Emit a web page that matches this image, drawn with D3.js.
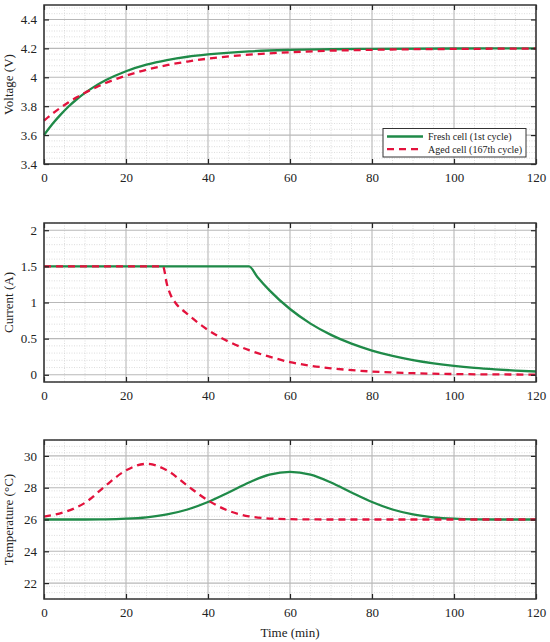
<!DOCTYPE html>
<html><head><meta charset="utf-8">
<script src="https://cdn.jsdelivr.net/npm/d3@7"></script>
<style>body{margin:0;background:#fff}svg{display:block}text{font-family:"Liberation Serif","Times New Roman",serif;fill:#222}</style>
</head><body><svg id="c" width="550" height="642"></svg>
<script>
// ---- data ----
const timeTicks = [0, 20, 40, 60, 80, 100, 120];
const seriesNames = ["Fresh cell (1st cycle)", "Aged cell (167th cycle)"];
const seriesColors = ["#1f8a48", "#e3123c"];

const vFreshT = [0,2,4,6,8,10,12,15,20,25,30,35,40,50,60,70,80,100,120];
const vFresh  = [3.600,3.675,3.740,3.798,3.848,3.892,3.930,3.979,4.042,4.087,4.119,4.142,4.158,4.179,4.189,4.194,4.197,4.199,4.200];
const vAgedT  = [0,2,4,6,8,10,12,15,20,25,30,35,40,50,60,70,80,90,100,120];
const vAged   = [3.700,3.747,3.789,3.827,3.862,3.893,3.921,3.960,4.011,4.052,4.084,4.109,4.129,4.156,4.173,4.184,4.190,4.194,4.196,4.199];

const iFreshT = [0,50,52,55,60,65,70,75,80,85,90,95,100,105,110,115,120];
const iFresh  = [1.5,1.5,1.357,1.168,0.910,0.708,0.552,0.430,0.335,0.261,0.203,0.158,0.123,0.096,0.075,0.058,0.045];
const iAgedT  = [0,29,30,31,32,35,40,45,50,55,60,65,70,80,90,100,110,120];
const iAged   = [1.5,1.5,1.25,1.09,1.0,0.84,0.62,0.46,0.34,0.25,0.175,0.125,0.09,0.045,0.022,0.01,0.005,0.003];

const tFreshT = [0,10,15,20,25,30,35,40,45,50,55,60,65,70,75,80,85,90,95,100,105,110,120];
const tFresh  = [26,26.001,26.01,26.05,26.14,26.32,26.63,27.10,27.70,28.33,28.82,29.00,28.82,28.33,27.70,27.10,26.63,26.32,26.14,26.05,26.01,26.0,26.0];
const tAgedT  = [0,5,10,15,20,25,30,35,40,45,50,55,60,70,120];
const tAged   = [26.18,26.47,27.05,28.12,29.09,29.5,29.09,28.12,27.2,26.55,26.2,26.06,26.02,26.0,26.0];

const panels = [
  {label:"Voltage (V)", domain:[3.4,4.5], ticks:[3.4,3.6,3.8,4,4.2,4.4], minor:0.04,
   series:[[vFreshT,vFresh],[vAgedT,vAged]], top:5, bottom:164, legend:true},
  {label:"Current (A)", domain:[-0.1,2.1], ticks:[0,0.5,1,1.5,2], minor:0.1,
   series:[[iFreshT,iFresh],[iAgedT,iAged]], top:223, bottom:382},
  {label:"Temperature (°C)", domain:[21,31], ticks:[22,24,26,28,30], minor:0.4,
   series:[[tFreshT,tFresh],[tAgedT,tAged]], top:440, bottom:599}
];

// ---- drawing ----
const svg = d3.select("#c");
const L = 44, R = 536;
const x = d3.scaleLinear().domain([0,120]).range([L,R]);

panels.forEach((p,pi)=>{
  const y = d3.scaleLinear().domain(p.domain).range([p.bottom,p.top]);
  const g = svg.append("g");
  // minor grid
  const xm = d3.range(0,120.001,5).filter(v=>v%20!==0);
  g.selectAll(".xm").data(xm).join("line")
    .attr("x1",d=>x(d)).attr("x2",d=>x(d)).attr("y1",p.top).attr("y2",p.bottom)
    .attr("stroke","#d4d4d4").attr("stroke-width",0.8).attr("stroke-dasharray","1,1.5");
  const ym = [];
  for(let v=p.domain[0]; v<=p.domain[1]+1e-9; v+=p.minor){
    const r = Math.round(v*1000)/1000;
    if(!p.ticks.some(t=>Math.abs(t-r)<1e-6)) ym.push(r);
  }
  g.selectAll(".ym").data(ym).join("line")
    .attr("x1",L).attr("x2",R).attr("y1",d=>y(d)).attr("y2",d=>y(d))
    .attr("stroke","#d4d4d4").attr("stroke-width",0.8).attr("stroke-dasharray","1,1.5");
  // major grid
  g.selectAll(".xg").data(timeTicks).join("line")
    .attr("x1",d=>x(d)).attr("x2",d=>x(d)).attr("y1",p.top).attr("y2",p.bottom)
    .attr("stroke","#b8b8b8").attr("stroke-width",1.1);
  g.selectAll(".yg").data(p.ticks).join("line")
    .attr("x1",L).attr("x2",R).attr("y1",d=>y(d)).attr("y2",d=>y(d))
    .attr("stroke","#b8b8b8").attr("stroke-width",1.1);

  // series
  const line = d3.line().x(d=>x(d[0])).y(d=>y(d[1])).curve(d3.curveMonotoneX);
  p.series.forEach((s,si)=>{
    const pts = s[0].map((t,i)=>[t,s[1][i]]);
    g.append("path").datum(pts).attr("d",line).attr("fill","none")
      .attr("stroke",seriesColors[si]).attr("stroke-width",2.3)
      .attr("stroke-dasharray",si===1?"7,5":null);
  });

  // axes with inward ticks
  const axB = d3.axisBottom(x).tickValues(timeTicks).tickSizeInner(-5).tickSizeOuter(0).tickPadding(9).tickFormat(d3.format("d"));
  const axT = d3.axisTop(x).tickValues(timeTicks).tickSizeInner(-5).tickSizeOuter(0).tickFormat("");
  const fmt = v=>String(+v.toFixed(2));
  const axL = d3.axisLeft(y).tickValues(p.ticks).tickSizeInner(-5).tickSizeOuter(0).tickPadding(7).tickFormat(fmt);
  const axR = d3.axisRight(y).tickValues(p.ticks).tickSizeInner(-5).tickSizeOuter(0).tickFormat("");
  [[axB,`translate(0,${p.bottom})`],[axT,`translate(0,${p.top})`],[axL,`translate(${L},0)`],[axR,`translate(${R},0)`]]
    .forEach(([ax,tr])=>{
      const a = g.append("g").attr("transform",tr).call(ax);
      a.select(".domain").remove();
      a.selectAll(".tick line").attr("stroke","#222").attr("stroke-width",1.2);
      a.selectAll("text").attr("font-size",13).style("font-family","Liberation Serif").attr("fill","#333");
    });
  g.append("rect").attr("x",L).attr("y",p.top).attr("width",R-L).attr("height",p.bottom-p.top)
    .attr("fill","none").attr("stroke","#333").attr("stroke-width",1.5);

  // y label
  g.append("text").attr("transform",`translate(13,${(p.top+p.bottom)/2}) rotate(-90)`)
    .attr("text-anchor","middle").attr("font-size",13).attr("fill","#333").text(p.label);

  if(p.legend){
    const lg = svg.append("g");
    lg.append("rect").attr("x",383).attr("y",128.5).attr("width",143).attr("height",28.5)
      .attr("fill","#fff").attr("stroke","#333").attr("stroke-width",1);
    seriesNames.forEach((n,i)=>{
      const yy = 136.5 + i*12.7;
      lg.append("line").attr("x1",387).attr("x2",423).attr("y1",yy).attr("y2",yy)
        .attr("stroke",seriesColors[i]).attr("stroke-width",2.3)
        .attr("stroke-dasharray",i===1?"7,5":null);
      lg.append("text").attr("x",428).attr("y",yy+3.5).attr("font-size",10).attr("fill","#333").text(n);
    });
  }
});

svg.append("text").attr("x",(L+R)/2).attr("y",637).attr("text-anchor","middle")
  .attr("font-size",13).attr("fill","#333").text("Time (min)");
</script></body></html>
